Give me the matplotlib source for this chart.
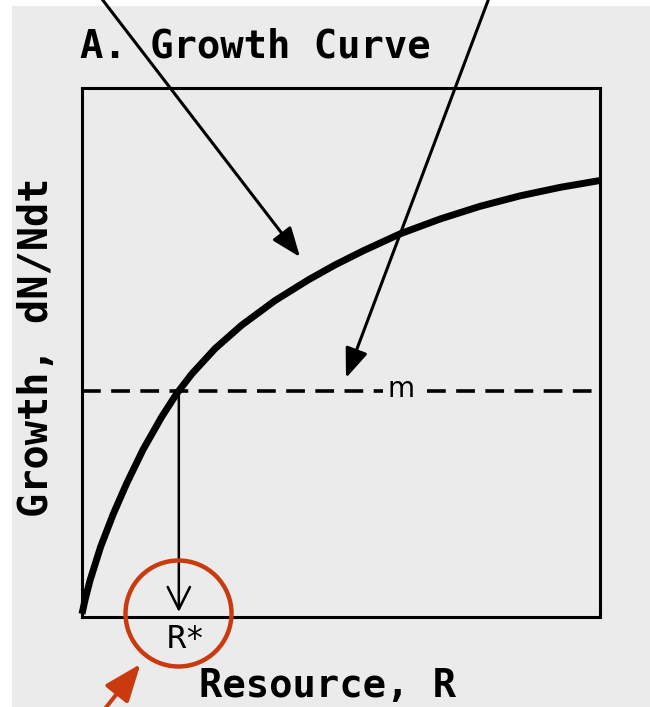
import numpy as np
import matplotlib
matplotlib.use("Agg")
import matplotlib.pyplot as plt
from matplotlib.patches import FancyArrowPatch, Ellipse, Rectangle

# data (resource R, growth dN/Ndt), axes span 0..1
resource = [0.0, 0.0058, 0.0154, 0.036, 0.0604, 0.0863, 0.118, 0.154, 0.183, 0.212, 0.257,
            0.308, 0.373, 0.437, 0.488, 0.543, 0.614, 0.691, 0.768, 0.846, 0.923, 1.0]
growth = [0.005, 0.031, 0.068, 0.132, 0.194, 0.252, 0.316, 0.378, 0.422, 0.459, 0.507,
          0.551, 0.598, 0.637, 0.665, 0.692, 0.724, 0.752, 0.776, 0.796, 0.812, 0.825]
m_level = 0.427

title = "A. Growth Curve"
xlabel = "Resource, R"
ylabel = "Growth, dN/Ndt"

# R* where the curve meets the mortality line
r_star = np.interp(m_level, growth, resource)

W, H = 650, 707
bg = "#ebebeb"
red = "#c93a0e"
mono = "DejaVu Sans Mono"
plt.rcParams["lines.scale_dashes"] = False


def px(x, y):
    # pixel position in the picture -> figure fraction
    return (x / W, 1 - y / H)


fig = plt.figure(figsize=(W / 100, H / 100), dpi=100, facecolor=bg)
# white margins of the scan
fig.patches.append(Rectangle((0, 1 - 6 / H), 1, 6 / H, transform=fig.transFigure,
                             fc="white", ec="none", zorder=0))
fig.patches.append(Rectangle((0, 0), 12 / W, 1, transform=fig.transFigure,
                             fc="white", ec="none", zorder=0))

ax = fig.add_axes([82 / W, (H - 616.5) / H, 518 / W, 528.5 / H])
ax.set_facecolor(bg)
ax.set_xlim(0, 1)
ax.set_ylim(0, 1)
ax.set_xticks([])
ax.set_yticks([])
for s in ax.spines.values():
    s.set_linewidth(2.2)

ax.plot(resource, growth, color="black", lw=5, solid_capstyle="butt", solid_joinstyle="round",
        clip_on=False, zorder=3)
# mortality line, broken around the "m" label
for x0, x1 in [(0, 0.581), (0.666, 1)]:
    ax.plot([x0, x1], [m_level, m_level], color="black", lw=2.6, dashes=(13.5, 7.5), zorder=2)
ax.text(0.616, m_level - 0.012, "m", fontsize=20, ha="center", va="baseline")

ax.annotate("", xy=(r_star, 0.0085), xytext=(r_star, m_level),
            arrowprops=dict(arrowstyle="->,head_length=16,head_width=8", mutation_scale=1,
                            lw=1.8, color="black", shrinkA=0, shrinkB=0))
ax.text(r_star + 0.014, -0.0596, "R*", family=mono, fontsize=23, ha="center", va="baseline")

fig.text(*px(80, 57), title, family=mono, fontsize=28, fontweight="bold", ha="left", va="baseline")
fig.text(*px(199, 697), xlabel, family=mono, fontsize=28, fontweight="bold",
         ha="left", va="baseline")
fig.text(*px(37, 347), ylabel, family=mono, fontsize=29, fontweight="bold", rotation=90,
         ha="center", va="center")

# pointer arrows from above
for start, tip in [((95, -10), (300, 257)), ((492, -10), (346, 378))]:
    fig.patches.append(FancyArrowPatch(px(*start), px(*tip), transform=fig.transFigure,
                                       arrowstyle="-|>,head_length=18,head_width=7",
                                       mutation_scale=1, lw=2.2, color="black",
                                       shrinkA=0, shrinkB=0, zorder=5))

# red highlight on R*
fig.patches.append(Ellipse(px(178.5, 613.5), 106 / W, 106 / H, transform=fig.transFigure,
                           fill=False, ec=red, lw=3.2, zorder=6))
fig.patches.append(FancyArrowPatch(px(100, 715), px(140.5, 664), transform=fig.transFigure,
                                   arrowstyle="-|>,head_length=23,head_width=9",
                                   mutation_scale=1, lw=2.9, color=red,
                                   shrinkA=0, shrinkB=0, zorder=6))

fig.savefig("out.png", dpi=100, facecolor=bg)
